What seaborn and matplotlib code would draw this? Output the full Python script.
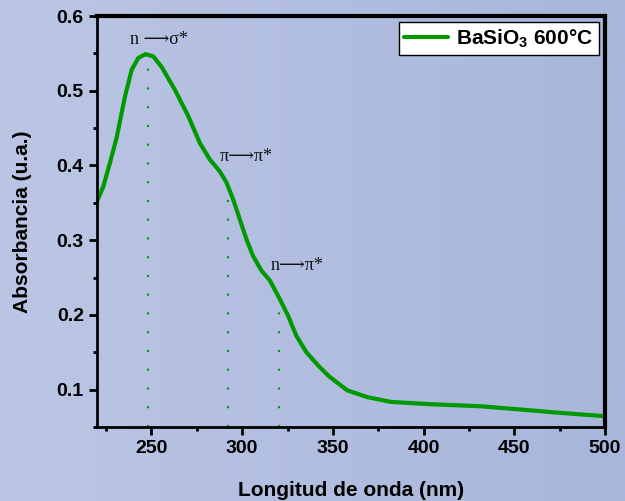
import numpy as np
import pandas as pd
import seaborn as sns
import matplotlib.pyplot as plt
from matplotlib.ticker import MultipleLocator

# absorbance spectrum
wavelength = [220, 223.5, 227.2, 230.8, 235.4, 239.1, 242.8, 246.8, 251, 255.6,
              263, 270.3, 276.7, 282.2, 287.7, 291.4, 295, 298.7, 302.4, 306,
              310.7, 315.3, 320.8, 325.3, 329.9, 335.4, 342.8, 348.3, 358, 369,
              382, 404, 431.8, 452, 475, 500]
absorbance = [0.352, 0.372, 0.404, 0.437, 0.492, 0.528, 0.544, 0.549, 0.546, 0.532,
              0.501, 0.466, 0.430, 0.408, 0.392, 0.377, 0.355, 0.328, 0.301, 0.279,
              0.259, 0.246, 0.221, 0.199, 0.172, 0.150, 0.130, 0.117, 0.099, 0.090,
              0.0836, 0.0805, 0.0777, 0.0737, 0.069, 0.0644]

# transitions marked with dotted lines
trans_wl = [248, 292, 320.5]
trans_top = [0.535, 0.355, 0.219]
trans_labels = ["n \u27f6\u03c3*", "\u03c0\u27f6\u03c0*", "n\u27f6\u03c0*"]
label_x = [254, 302, 330.5]
label_y = [0.569, 0.412, 0.266]

series_name = "BaSiO$_\\mathregular{3}$ 600\u00b0C"
green = "#009a00"

sns.set_theme(style="ticks")
plt.rcParams['font.family'] = ['Liberation Sans', 'DejaVu Sans']

df = pd.DataFrame({"wl": wavelength, "abs": absorbance})

fig = plt.figure(figsize=(6.25, 5.01), dpi=100)

# gradient background
bg = fig.add_axes([0, 0, 1, 1], zorder=-1)
grad = np.linspace(0, 1, 256)[None, :]
c_left = np.array([188, 198, 228]) / 255
c_right = np.array([168, 182, 220]) / 255
img = c_left[None, None, :] * (1 - grad[..., None]) + c_right[None, None, :] * grad[..., None]
bg.imshow(img, aspect="auto", extent=[0, 1, 0, 1])
bg.axis("off")

ax = fig.add_axes([0.1552, 0.1477, 0.8128, 0.8203])
ax.set_facecolor("none")

sns.lineplot(data=df, x="wl", y="abs", ax=ax, color=green, linewidth=3,
             label=series_name, sort=False)

for w, t in zip(trans_wl, trans_top):
    ax.plot([w, w], [0.05, t], color=green, linewidth=1.5, dashes=(1, 8))

for lx, ly, txt in zip(label_x, label_y, trans_labels):
    ax.text(lx, ly, txt, ha="center", va="center", fontsize=13,
            family=["Liberation Serif", "DejaVu Serif", "DejaVu Sans"],
            color="#111111")

ax.set_xlim(220, 500)
ax.set_ylim(0.05, 0.6)
ax.xaxis.set_major_locator(MultipleLocator(50))
ax.xaxis.set_minor_locator(MultipleLocator(25))
ax.yaxis.set_major_locator(MultipleLocator(0.1))
ax.yaxis.set_minor_locator(MultipleLocator(0.05))
ax.set_yticks([0.1, 0.2, 0.3, 0.4, 0.5, 0.6])

for side in ["left", "bottom"]:
    ax.spines[side].set_linewidth(2)
    ax.spines[side].set_color("black")
for side in ["top", "right"]:
    ax.spines[side].set_visible(True)
    ax.spines[side].set_linewidth(3)
    ax.spines[side].set_color("black")

ax.tick_params(which="major", direction="out", length=6, width=2, colors="black",
               labelsize=14)
ax.tick_params(which="minor", direction="out", length=3, width=2, colors="black")
for lab in ax.get_xticklabels() + ax.get_yticklabels():
    lab.set_fontweight("bold")

ax.set_xlabel("Longitud de onda (nm)", fontsize=15, fontweight="bold",
              color="black", labelpad=17)
ax.set_ylabel("Absorbancia (u.a.)", fontsize=15, fontweight="bold",
              color="black", labelpad=18)

leg = ax.legend(loc="upper right", frameon=True, fancybox=False, framealpha=1,
                edgecolor="black", prop={"weight": "bold", "size": 15},
                handlelength=2.1, borderpad=0.25, handletextpad=0.4,
                borderaxespad=0.3)
leg.get_frame().set_linewidth(1)
for t in leg.get_texts():
    t.set_color("black")

fig.savefig("out.png", dpi=100)
